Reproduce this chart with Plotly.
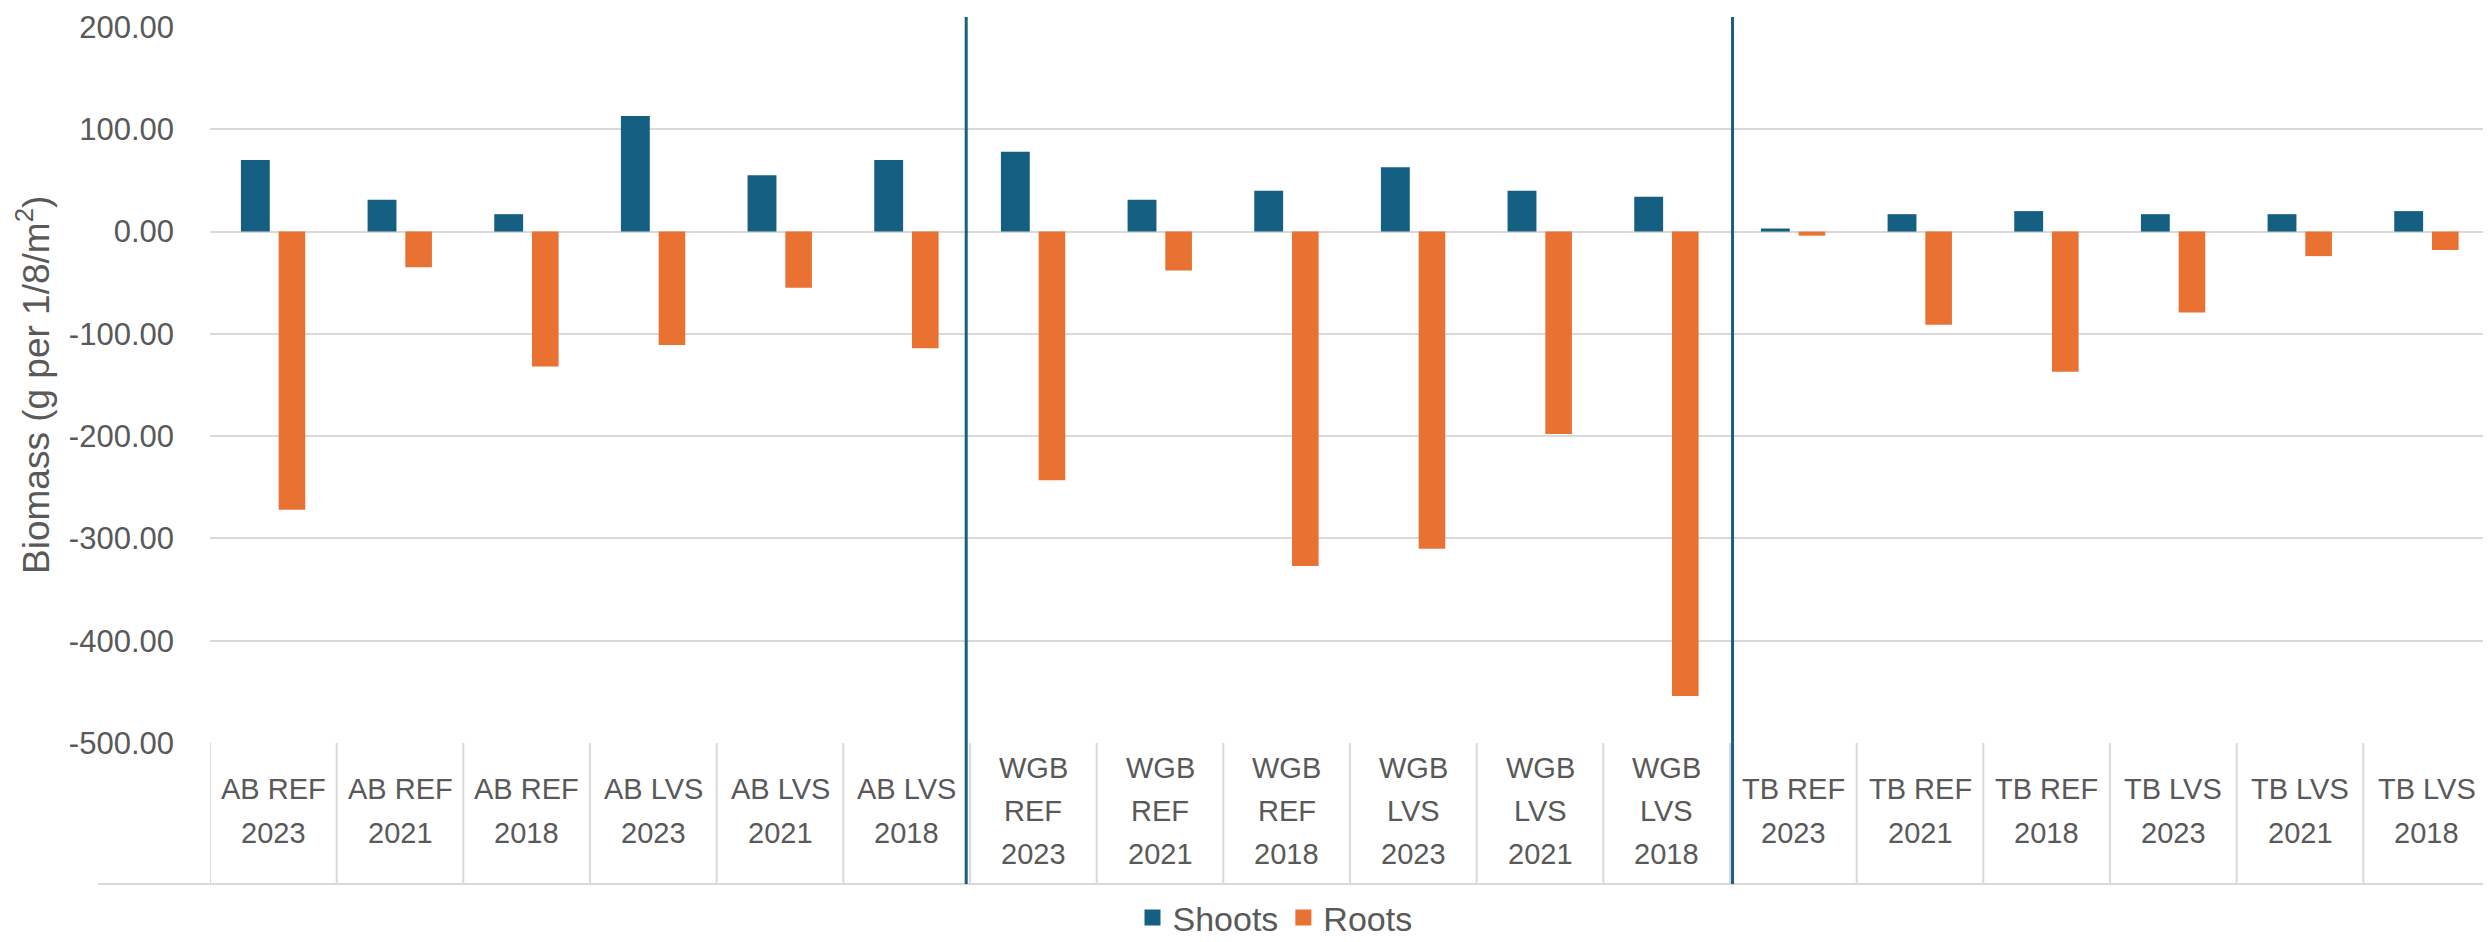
import plotly.graph_objects as go

# ---------------- data ----------------
categories = [
    "AB REF 2023", "AB REF 2021", "AB REF 2018", "AB LVS 2023", "AB LVS 2021", "AB LVS 2018",
    "WGB REF 2023", "WGB REF 2021", "WGB REF 2018", "WGB LVS 2023", "WGB LVS 2021", "WGB LVS 2018",
    "TB REF 2023", "TB REF 2021", "TB REF 2018", "TB LVS 2023", "TB LVS 2021", "TB LVS 2018",
]
category_label_lines = [
    ["AB REF", "2023"], ["AB REF", "2021"], ["AB REF", "2018"],
    ["AB LVS", "2023"], ["AB LVS", "2021"], ["AB LVS", "2018"],
    ["WGB", "REF", "2023"], ["WGB", "REF", "2021"], ["WGB", "REF", "2018"],
    ["WGB", "LVS", "2023"], ["WGB", "LVS", "2021"], ["WGB", "LVS", "2018"],
    ["TB REF", "2023"], ["TB REF", "2021"], ["TB REF", "2018"],
    ["TB LVS", "2023"], ["TB LVS", "2021"], ["TB LVS", "2018"],
]
shoots = [70, 31, 17, 113, 55, 70, 78, 31, 40, 63, 40, 34, 3, 17, 20, 17, 17, 20]
roots = [-272, -35, -132, -111, -55, -114, -243, -38, -327, -310, -198, -454, -4, -91, -137, -79, -24, -18]
y_tick_values = [200, 100, 0, -100, -200, -300, -400, -500]
y_tick_labels = ["200.00", "100.00", "0.00", "-100.00", "-200.00", "-300.00", "-400.00", "-500.00"]
y_title = "Biomass (g per 1/8/m<sup>2</sup>)"
group_separators = [5.47, 11.52]

# ---------------- style ----------------
SHOOT_COLOR = "#156082"
ROOT_COLOR = "#E97132"
TEXT_COLOR = "#595959"
GRID_COLOR = "#D9D9D9"
SEP_COLOR = "#1B5E82"
FONT = "Liberation Sans, Arial, sans-serif"

# the page body has an 8px margin: work in page pixels and subtract it
OFF = 8
W, H = 2491 - OFF, 942 - OFF
ML = 210 - OFF
MR = 1
MT = 27 - OFF
axis_page = 743                      # page row of the plot bottom (-500)
MB = H - (axis_page - OFF)
plot_h = H - MT - MB
plot_w = W - ML - MR


def py(page_row):
    """page pixel row -> paper y"""
    return (axis_page - page_row) / plot_h


def px(page_col):
    """page pixel column -> paper x"""
    return (page_col - 210) / plot_w


box_bottom = py(884)
label_center = 811
line_step = 43

fig = go.Figure()
fig.add_trace(go.Bar(
    x=categories, y=shoots, name="Shoots", marker=dict(color=SHOOT_COLOR, line=dict(width=0)),
    width=0.228, offset=-0.256, showlegend=False,
))
fig.add_trace(go.Bar(
    x=categories, y=roots, name="Roots", marker=dict(color=ROOT_COLOR, line=dict(width=0)),
    width=0.21, offset=0.042, showlegend=False,
))
# legend entries (square symbols)
fig.add_trace(go.Scatter(x=[None], y=[None], mode="markers", name="Shoots",
                         marker=dict(symbol="square", size=24, color=SHOOT_COLOR)))
fig.add_trace(go.Scatter(x=[None], y=[None], mode="markers", name="Roots",
                         marker=dict(symbol="square", size=24, color=ROOT_COLOR)))

shapes = []
# category table: vertical lines
for i in range(len(categories) + 1):
    shapes.append(dict(type="line", xref="x", yref="paper", x0=i - 0.5, x1=i - 0.5,
                       y0=0, y1=box_bottom, line=dict(color=GRID_COLOR, width=2), layer="below"))
# bottom line of the table (extends left under the y labels)
shapes.append(dict(type="line", xref="paper", yref="paper", x0=px(98), x1=1,
                   y0=box_bottom, y1=box_bottom, line=dict(color=GRID_COLOR, width=2), layer="below"))
# group separators
for xs in group_separators:
    shapes.append(dict(type="line", xref="x", yref="paper", x0=xs, x1=xs,
                       y0=box_bottom, y1=py(17),
                       line=dict(color=SEP_COLOR, width=3)))

annotations = []
for cat, lines in zip(categories, category_label_lines):
    n = len(lines)
    for k, line in enumerate(lines):
        row = label_center + (k - (n - 1) / 2) * line_step
        annotations.append(dict(x=cat, xref="x", y=py(row), yref="paper", text=line,
                                showarrow=False, xanchor="center", yanchor="middle",
                                font=dict(family=FONT, size=29, color=TEXT_COLOR)))
annotations.append(dict(x=px(33), xref="paper", y=py(385), yref="paper",
                        text=y_title, textangle=-90, showarrow=False,
                        xanchor="center", yanchor="middle",
                        font=dict(family=FONT, size=37, color=TEXT_COLOR)))

fig.update_layout(
    width=W, height=H,
    margin=dict(l=ML, r=MR, t=MT, b=MB, pad=0, autoexpand=False),
    paper_bgcolor="white", plot_bgcolor="white",
    barmode="overlay",
    xaxis=dict(type="category", categoryorder="array", categoryarray=categories,
               range=[-0.5, len(categories) - 0.5], showticklabels=False,
               showgrid=False, zeroline=False, showline=False, ticks=""),
    yaxis=dict(range=[-500, 200], tickvals=y_tick_values, ticktext=y_tick_labels,
               showgrid=True, gridcolor=GRID_COLOR, gridwidth=2, zeroline=False,
               showline=False, ticks="", ticklabelstandoff=35,
               tickfont=dict(family=FONT, size=31, color=TEXT_COLOR)),
    legend=dict(orientation="h", x=px(1275), xanchor="center",
                y=py(918), yanchor="middle",
                font=dict(family=FONT, size=34, color=TEXT_COLOR),
                itemsizing="trace", bgcolor="rgba(0,0,0,0)",
                tracegroupgap=0),
    shapes=shapes,
    annotations=annotations,
    showlegend=True,
)

fig.write_html("out.html")
